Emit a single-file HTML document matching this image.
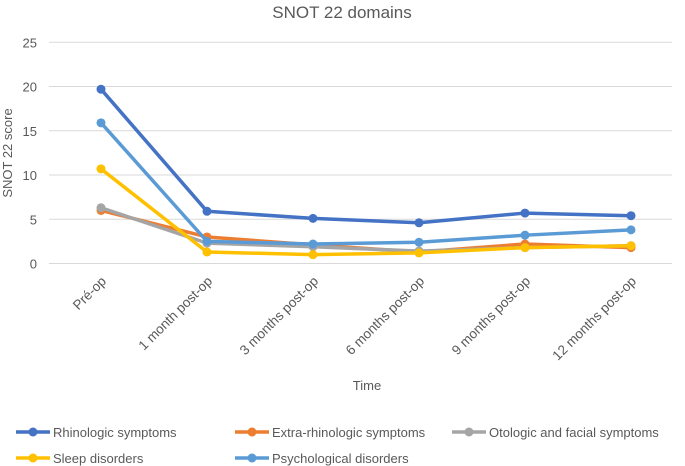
<!DOCTYPE html>
<html><head><meta charset="utf-8"><style>
body{margin:0;background:#fff;}
svg{display:block;font-family:"Liberation Sans",sans-serif;}
</style></head><body>
<svg id="chart" width="685" height="466">
<text x="342" y="18" text-anchor="middle" font-size="17" fill="#595959">SNOT 22 domains</text>
<text x="12" y="153" text-anchor="middle" font-size="13" fill="#595959" transform="rotate(-90 12 153)">SNOT 22 score</text>
<text x="367" y="390" text-anchor="middle" font-size="13" fill="#595959">Time</text>
<g id="grid"></g><g id="xlabels"></g><g id="series"></g><g id="legend"></g>
</svg>
<script>
const categories=["Pré-op","1 month post-op","3 months post-op","6 months post-op","9 months post-op","12 months post-op"];
const yTicks=[0,5,10,15,20,25];
const seriesNames=["Rhinologic symptoms","Extra-rhinologic symptoms","Otologic and facial symptoms","Sleep disorders","Psychological disorders"];
const rhinologic=[19.7,5.9,5.1,4.6,5.7,5.4];
const extraRhinologic=[6.0,3.0,2.1,1.3,2.2,1.8];
const otologic=[6.3,2.3,1.9,1.4,1.8,2.0];
const sleep=[10.7,1.3,1.0,1.2,1.8,2.0];
const psychological=[15.9,2.5,2.2,2.4,3.2,3.8];
const colors=["#4472C4","#ED7D31","#A5A5A5","#FFC000","#5B9BD5"];
const allSeries=[rhinologic,extraRhinologic,otologic,sleep,psychological];
const NS="http://www.w3.org/2000/svg";
const x0=48,x1=684,y0=263.5,y25=42.3;
function xs(i){return x0+(x1-x0)*(i+0.5)/categories.length;}
function ys(v){return y0-(y0-y25)*v/25;}
function mk(t,a,p){const e=document.createElementNS(NS,t);for(const k in a)e.setAttribute(k,a[k]);p.appendChild(e);return e;}
const grid=document.getElementById('grid');
yTicks.forEach(v=>{
 const l=mk('line',{x1:x0+1,x2:672,y1:ys(v),y2:ys(v),stroke:'#d9d9d9','stroke-width':1},grid);
 
 
 const t=mk('text',{x:37,y:ys(v)+5,'text-anchor':'end','font-size':13,fill:'#595959'},grid);
 t.textContent=v;
 
 
});
const xl=document.getElementById('xlabels');
categories.forEach((c,i)=>{
 const x=xs(i);
 const t=mk('text',{x:x+6,y:282,'text-anchor':'end','font-size':13.5,fill:'#595959',transform:`rotate(-45 ${x+6} 282)`},xl);
 t.textContent=c;
 
 
});
const sg=document.getElementById('series');
allSeries.forEach((s,k)=>{
 const g=mk('g',{},sg);
 
 
 const pts=s.map((v,i)=>xs(i)+','+ys(v)).join(' ');
 const pl=mk('polyline',{points:pts,fill:'none',stroke:colors[k],'stroke-width':3.5,'stroke-linejoin':'round'},g);
 
 
 s.forEach((v,i)=>{
  const c=mk('circle',{cx:xs(i),cy:ys(v),r:4.5,fill:colors[k]},g);
  
  
 });
});
const lg=document.getElementById('legend');
const lpos=[[16,432],[235,432],[452,432],[16,458],[235,458]];
seriesNames.forEach((n,k)=>{
 const [x,y]=lpos[k];
 const g=mk('g',{},lg);
 
 
 mk('line',{x1:x,x2:x+34,y1:y,y2:y,stroke:colors[k],'stroke-width':3.5},g);
 mk('circle',{cx:x+17,cy:y,r:4.5,fill:colors[k]},g);
 const t=mk('text',{x:x+37,y:y+5,'font-size':13,fill:'#595959'},g);
 t.textContent=n;
});
</script>
</body></html>
